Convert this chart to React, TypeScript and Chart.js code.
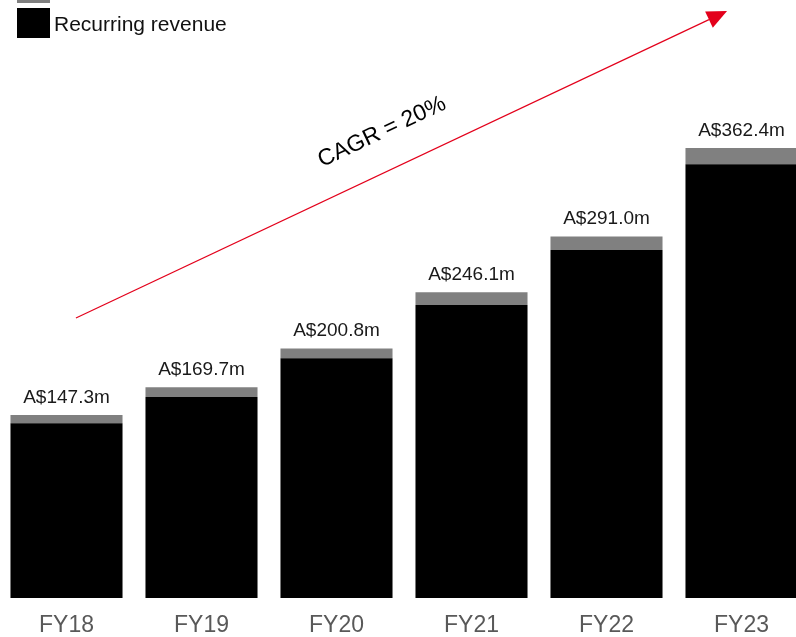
import React, { useEffect, useRef } from "react";
import { Chart, registerables } from "chart.js";

Chart.register(...registerables);

const categories = ["FY18", "FY19", "FY20", "FY21", "FY22", "FY23"];
const recurringRevenue = [140.7, 161.8, 193.0, 235.9, 280.2, 349.2];
const nonRecurringRevenue = [6.6, 7.9, 7.8, 10.2, 10.8, 13.2];
const totalLabels = ["A$147.3m", "A$169.7m", "A$200.8m", "A$246.1m", "A$291.0m", "A$362.4m"];
const seriesNames = ["Recurring revenue", "Non-recurring revenue"];
const cagrText = "CAGR = 20%";
// arrow in data space: [category index, value]
const arrowStart = [0.07, 225.4];
const arrowEnd = [4.893, 472.6];
const cagrLabelPos = [2.337, 375.2];

const FONT = "'Liberation Sans', Arial, sans-serif";

const annotationPlugin = {
  id: "annotations",
  afterDatasetsDraw(chart: any) {
    const ctx = chart.ctx;
    const xs = chart.scales.x;
    const ys = chart.scales.y;
    const topMeta = chart.getDatasetMeta(1);
    ctx.save();
    // value labels
    ctx.font = `19px ${FONT}`;
    ctx.fillStyle = "#1a1a1a";
    ctx.textAlign = "center";
    ctx.textBaseline = "bottom";
    topMeta.data.forEach((bar: any, i: number) => {
      ctx.fillText(totalLabels[i], bar.x, bar.y - 8);
    });
    // arrow
    const x0 = xs.getPixelForValue(arrowStart[0]);
    const y0 = ys.getPixelForValue(arrowStart[1]);
    const x1 = xs.getPixelForValue(arrowEnd[0]);
    const y1 = ys.getPixelForValue(arrowEnd[1]);
    const ang = Math.atan2(y1 - y0, x1 - x0);
    const headLen = 20;
    const headHalf = 9;
    const bx = x1 - headLen * Math.cos(ang);
    const by = y1 - headLen * Math.sin(ang);
    ctx.strokeStyle = "#e3001b";
    ctx.lineWidth = 1.2;
    ctx.beginPath();
    ctx.moveTo(x0, y0);
    ctx.lineTo(bx, by);
    ctx.stroke();
    ctx.fillStyle = "#e3001b";
    ctx.beginPath();
    ctx.moveTo(x1, y1);
    ctx.lineTo(bx + headHalf * Math.sin(ang), by - headHalf * Math.cos(ang));
    ctx.lineTo(bx - headHalf * Math.sin(ang), by + headHalf * Math.cos(ang));
    ctx.closePath();
    ctx.fill();
    // CAGR text
    const tx = xs.getPixelForValue(cagrLabelPos[0]);
    const ty = ys.getPixelForValue(cagrLabelPos[1]);
    ctx.translate(tx, ty);
    ctx.rotate(ang);
    ctx.font = `23px ${FONT}`;
    ctx.fillStyle = "#000";
    ctx.textAlign = "center";
    ctx.textBaseline = "middle";
    ctx.fillText(cagrText, 0, 0);
    ctx.restore();

    // legend (vertical, top item partly above canvas)
    ctx.save();
    const ds = chart.data.datasets;
    const items = [ds[1], ds[0]];
    const boxX = 18;
    const boxW = 33;
    const boxH = 30;
    const firstY = 8 - boxH - 5;
    items.forEach((d: any, i: number) => {
      const y = firstY + i * (boxH + 5);
      ctx.fillStyle = d.backgroundColor;
      ctx.fillRect(boxX, y, boxW, boxH);
      ctx.fillStyle = "#111";
      ctx.font = `21px ${FONT}`;
      ctx.textAlign = "left";
      ctx.textBaseline = "middle";
      ctx.fillText(d.label, boxX + boxW + 4, y + boxH / 2 + 2);
    });
    ctx.restore();
  },
};

export default function App() {
  const ref = useRef<HTMLCanvasElement>(null);
  useEffect(() => {
    if (!ref.current) return;
    const chart = new Chart(ref.current, {
      type: "bar",
      data: {
        labels: categories,
        datasets: [
          {
            label: seriesNames[0],
            data: recurringRevenue,
            backgroundColor: "#000000",
            borderWidth: 0,
          },
          {
            label: seriesNames[1],
            data: nonRecurringRevenue,
            backgroundColor: "#808080",
            borderWidth: 0,
          },
        ],
      },
      options: {
        responsive: false,
        animation: false,
        layout: { padding: 0 },
        plugins: {
          legend: { display: false },
          tooltip: { enabled: false },
        },
        datasets: {
          bar: { categoryPercentage: 1, barPercentage: 0.83 },
        },
        scales: {
          x: {
            stacked: true,
            grid: { display: false, drawTicks: false },
            border: { display: false },
            ticks: {
              color: "#595959",
              font: { family: FONT, size: 23 },
              padding: 14,
            },
            afterFit: (scale: any) => {
              scale.height = 39;
            },
          },
          y: {
            stacked: true,
            display: false,
            min: 0,
            max: 481.5,
          },
        },
      },
      plugins: [annotationPlugin],
    });
    return () => chart.destroy();
  }, []);
  return (
    <div style={{ position: "fixed", left: -1, top: 0, width: 810, height: 637, overflow: "hidden" }}>
      <canvas ref={ref} width={810} height={637} />
    </div>
  );
}
